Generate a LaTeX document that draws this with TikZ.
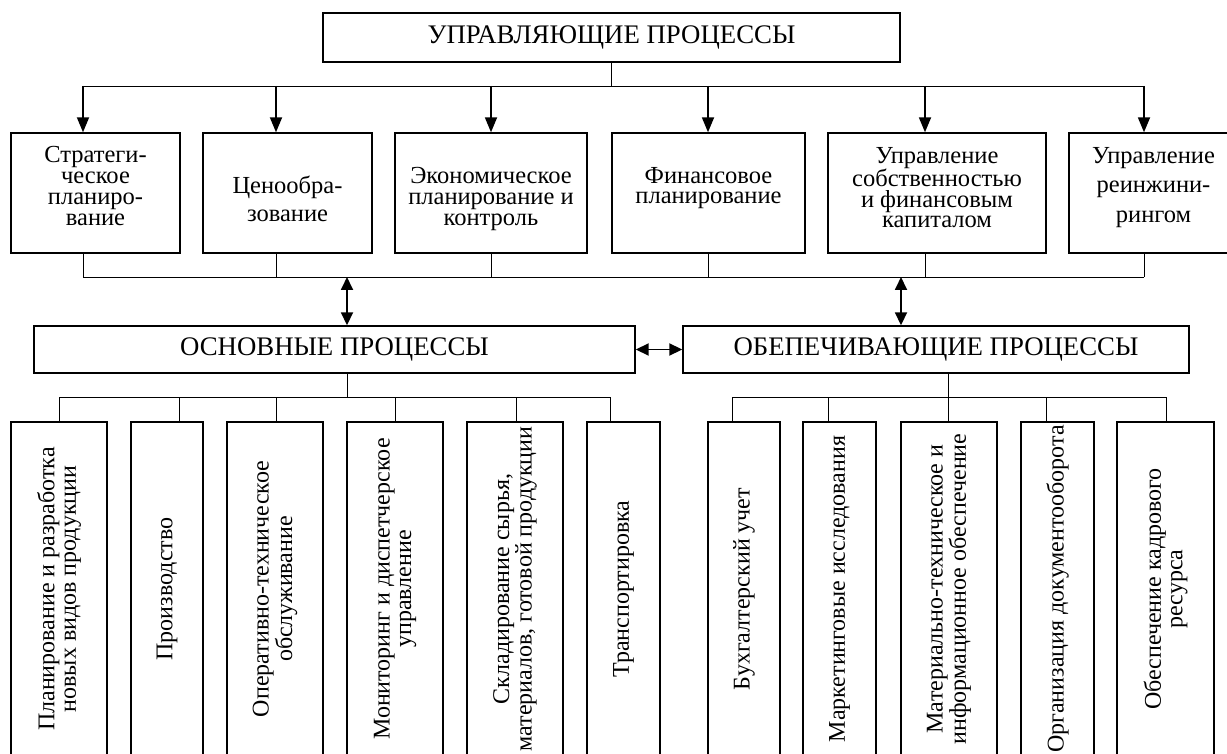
\documentclass[tikz,border=0pt]{standalone}
\usepackage{fontspec}
\setmainfont{Liberation Serif}
\usetikzlibrary{arrows.meta}
\newcommand{\fst}{\rule{0pt}{18pt}}
\begin{document}
\begin{tikzpicture}[x=1pt,y=-1pt,
  box/.style={draw, line width=1.4pt, inner sep=0pt, align=center},
  head/.style={font=\fontsize{26.8}{28}\selectfont},
  rowbox/.style={draw, line width=1.4pt, inner sep=0pt, minimum height=120pt},
  rowtxt/.style={anchor=north, inner sep=0pt, align=center},
  vbox/.style={box, font=\fontsize{24}{21.5}\selectfont, rotate=90, minimum width=334pt},
  conn/.style={line width=0.9pt},
  arr/.style={line width=1.8pt, -{Triangle[length=15pt,width=12pt]}},
  darr/.style={line width=1.8pt, {Triangle[length=13pt,width=12pt]}-{Triangle[length=13pt,width=12pt]}},
]
\useasboundingbox (0,0) rectangle (1227,754);

% top
\node[box, head, minimum width=577pt, minimum height=49pt] (top) at (611.5,37.5) {УПРАВЛЯЮЩИЕ ПРОЦЕССЫ};

% row 2 boxes
\node[rowbox, minimum width=169pt] (b1) at (95.5,193) {};
\node[rowbox, minimum width=169pt] (b2) at (287.5,193) {};
\node[rowbox, minimum width=192pt] (b3) at (491,193) {};
\node[rowbox, minimum width=193pt] (b4) at (708.5,193) {};
\node[rowbox, minimum width=218pt] (b5) at (937,193) {};
\node[rowbox, minimum width=169pt] (b6) at (1153.5,193) {};

% row 2 texts (first baseline = y + 18)
\node[rowtxt, font=\fontsize{24.5}{21}\selectfont] (b1t) at (b1.center |- 0,144) {\fst Стратеги-\\ческое\\планиро-\\вание};
\node[rowtxt, font=\fontsize{24.5}{28}\selectfont] (b2t) at (b2.center |- 0,175) {\fst Ценообра-\\зование};
\node[rowtxt, font=\fontsize{24.5}{21}\selectfont] (b3t) at (b3.center |- 0,165) {\fst Экономическое\\планирование и\\контроль};
\node[rowtxt, font=\fontsize{24.5}{20.5}\selectfont] (b4t) at (b4.center |- 0,165) {\fst Финансовое\\планирование};
\node[rowtxt, font=\fontsize{24.5}{20.5}\selectfont] (b5t) at (b5.center |- 0,145) {\fst Управление\\собственностью\\и финансовым\\капиталом};
\node[rowtxt, font=\fontsize{24.5}{29.5}\selectfont] (b6t) at (b6.center |- 0,145) {\fst Управление\\реинжини-\\рингом};

% middle
\node[box, head, minimum width=601pt, minimum height=47pt] (main) at (334.5,349.5) {ОСНОВНЫЕ ПРОЦЕССЫ};
\node[box, head, minimum width=506pt, minimum height=47pt] (sup) at (936,349.5) {ОБЕПЕЧИВАЮЩИЕ ПРОЦЕССЫ};

% bottom left
\node[vbox, minimum height=96pt] (l1) at (59,589) {Планирование и разработка\\новых видов продукции};
\node[vbox, minimum height=72pt] (l2) at (167,589) {Производство};
\node[vbox, minimum height=96pt] (l3) at (275,589) {Оперативно-техническое\\обслуживание};
\node[vbox, minimum height=96pt] (l4) at (395,589) {Мониторинг и диспетчерское\\управление};
\node[vbox, minimum height=96pt] (l5) at (515,589) {Складирование сырья,\\\makebox[0pt]{материалов, готовой продукции}};
\node[vbox, minimum height=73pt] (l6) at (623.5,589) {Транспортировка};

% bottom right
\node[vbox, minimum height=72pt] (r1) at (744,589) {Бухгалтерский учет};
\node[vbox, minimum height=73pt] (r2) at (839.5,589) {Маркетинговые исследования};
\node[vbox, minimum height=96pt] (r3) at (949,589) {Материально-техническое и\\информационное обеспечение};
\node[vbox, minimum height=73pt] (r4) at (1057.5,589) {Организация документооборота};
\node[vbox, minimum height=97pt] (r5) at (1165.5,589) {Обеспечение кадрового\\ресурса};

% top bus
\coordinate (t1) at (83,86);
\coordinate (t2) at (276,86);
\coordinate (t3) at (491,86);
\coordinate (t4) at (708,86);
\coordinate (t5) at (925,86);
\coordinate (t6) at (1144,86);
\draw[conn] (top.south) -- (top.south |- t1);
\draw[conn] (t1) -- (t6);
\draw[arr] (t1) -- (t1 |- b1.north);
\draw[arr] (t2) -- (t2 |- b2.north);
\draw[arr] (t3) -- (t3 |- b3.north);
\draw[arr] (t4) -- (t4 |- b4.north);
\draw[arr] (t5) -- (t5 |- b5.north);
\draw[arr] (t6) -- (t6 |- b6.north);

% lower bus of row 2
\coordinate (u1) at (83,277);
\coordinate (u2) at (276,277);
\coordinate (u3) at (491,277);
\coordinate (u4) at (708,277);
\coordinate (u5) at (925,277);
\coordinate (u6) at (1144,277);
\draw[conn] (u1 |- b1.south) -- (u1);
\draw[conn] (u2 |- b2.south) -- (u2);
\draw[conn] (u3 |- b3.south) -- (u3);
\draw[conn] (u4 |- b4.south) -- (u4);
\draw[conn] (u5 |- b5.south) -- (u5);
\draw[conn] (u6 |- b6.south) -- (u6);
\draw[conn] (u1) -- (u6);

% double arrows
\coordinate (d1) at (347,277);
\coordinate (d2) at (901,277);
\draw[darr] (d1) -- (d1 |- main.north);
\draw[darr] (d2) -- (d2 |- sup.north);
\draw[darr] (main.east) -- (sup.west);

% left lower bus
\coordinate (m0) at (347,397);
\draw[conn] (m0 |- main.south) -- (m0);
\coordinate (p1) at (59,397);
\coordinate (p2) at (179,397);
\coordinate (p3) at (276,397);
\coordinate (p4) at (395,397);
\coordinate (p5) at (516,397);
\coordinate (p6) at (610,397);
\draw[conn] (p1) -- (p6);
\draw[conn] (p1) -- (p1 |- l1.east);
\draw[conn] (p2) -- (p2 |- l2.east);
\draw[conn] (p3) -- (p3 |- l3.east);
\draw[conn] (p4) -- (p4 |- l4.east);
\draw[conn] (p5) -- (p5 |- l5.east);
\draw[conn] (p6) -- (p6 |- l6.east);

% right lower bus
\coordinate (n0) at (948,397);
\draw[conn] (n0 |- sup.south) -- (n0);
\coordinate (q1) at (732,397);
\coordinate (q2) at (828,397);
\coordinate (q3) at (948,397);
\coordinate (q4) at (1046,397);
\coordinate (q5) at (1166,397);
\draw[conn] (q1) -- (q5);
\draw[conn] (q1) -- (q1 |- r1.east);
\draw[conn] (q2) -- (q2 |- r2.east);
\draw[conn] (q3) -- (q3 |- r3.east);
\draw[conn] (q4) -- (q4 |- r4.east);
\draw[conn] (q5) -- (q5 |- r5.east);
\end{tikzpicture}
\end{document}
